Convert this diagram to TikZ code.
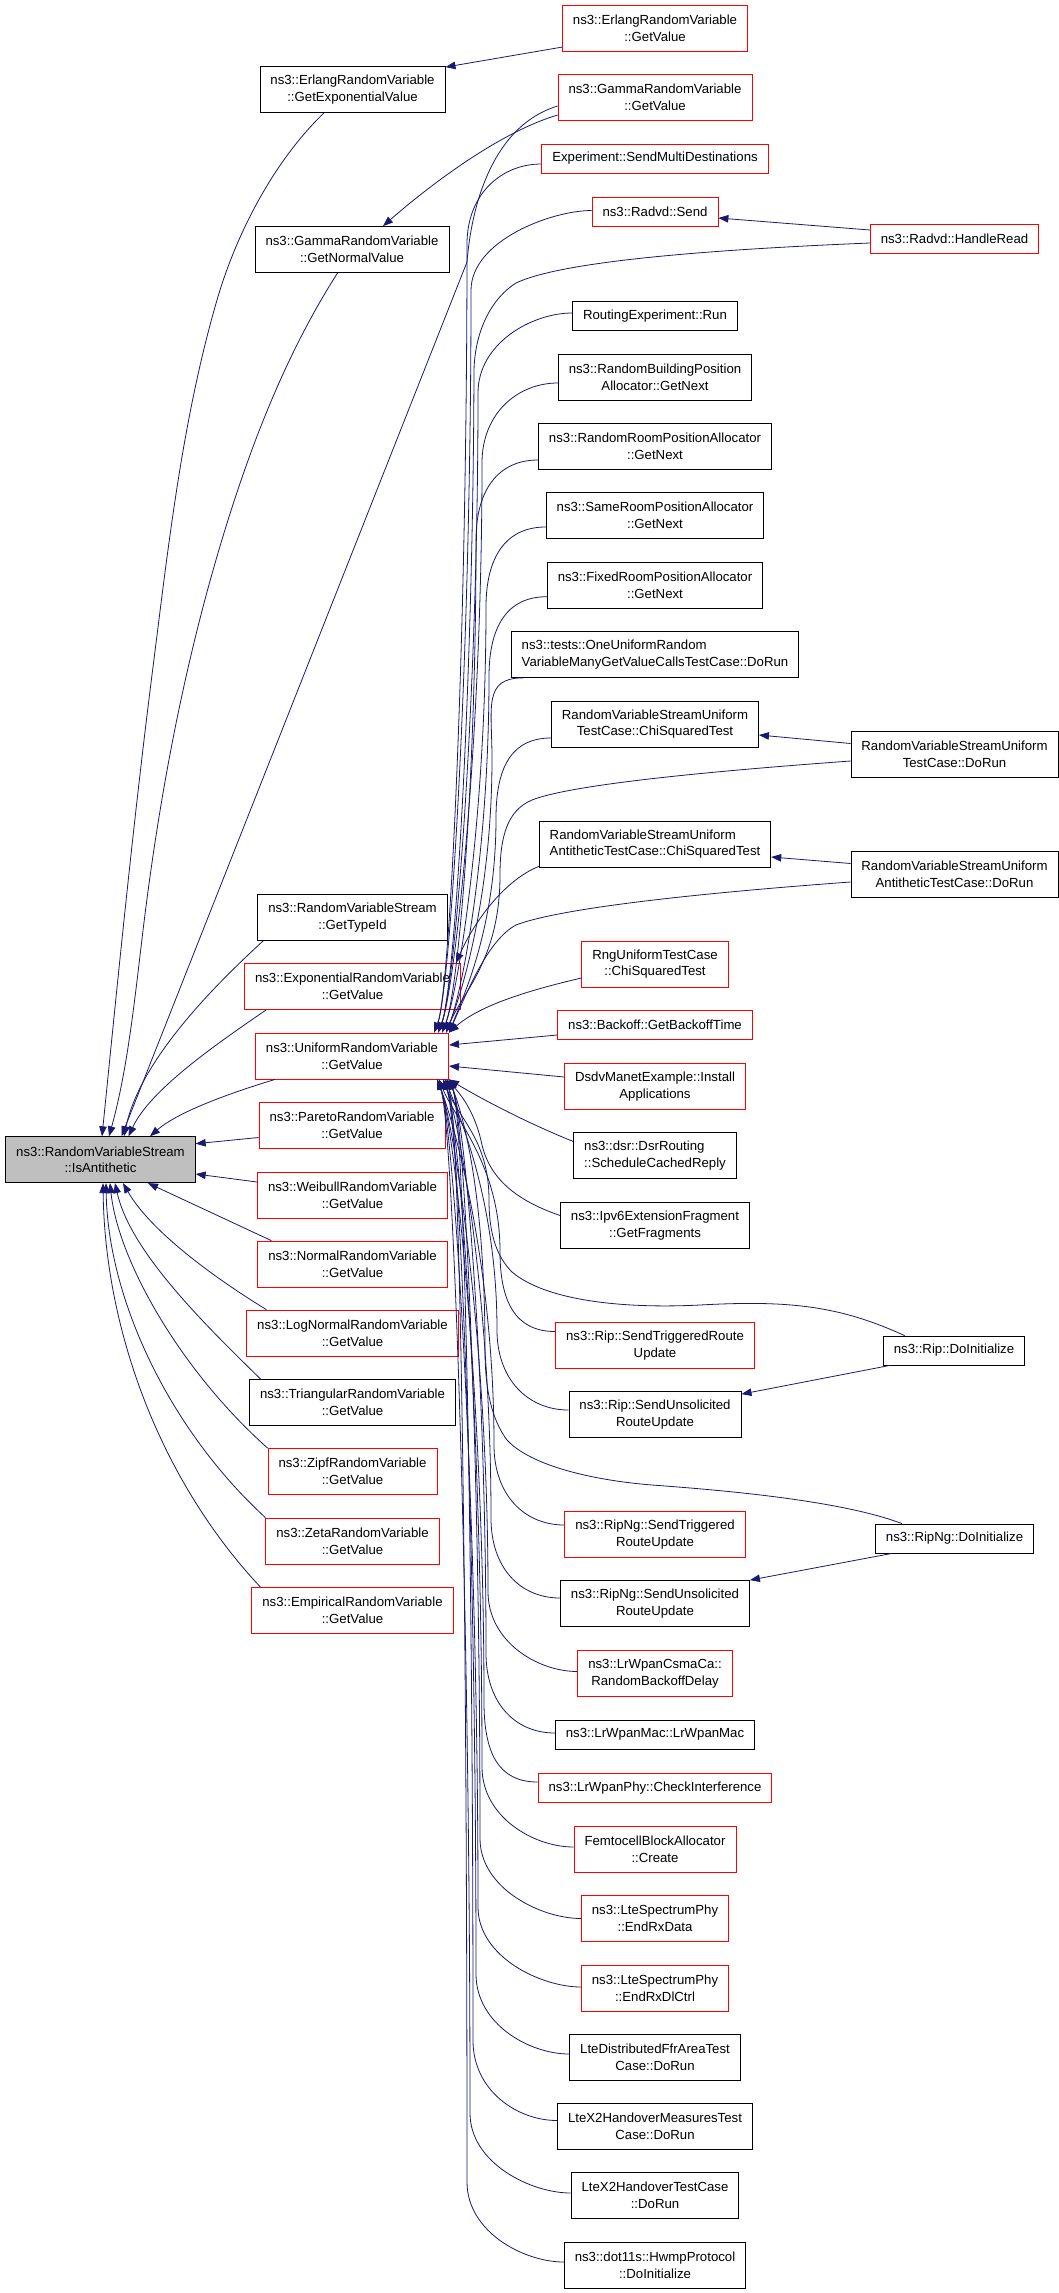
\documentclass[tikz,border=0pt]{standalone}
\usepackage{fontspec}
\setmainfont{Liberation Sans}
\usetikzlibrary{arrows.meta,calc}
\definecolor{edgeblue}{RGB}{25,25,112}
\definecolor{nodegray}{RGB}{191,191,191}
\definecolor{nodered}{RGB}{255,0,0}
\newcommand\upcall[3]{%
 \draw[e] let \p1=(#1), \p2=($(unif.north east)+(#3,0)$) in
 (\p1) .. controls ($(\p1)+(-40,0)$) and (#2pt,\y1-30pt) .. (#2pt,\y1-80pt)
 .. controls (#2pt,{0.5*(\y1+\y2)-40pt}) and ($(\p2)+(16,40)$) .. (\p2);}
\newcommand\lowcall[3]{%
 \draw[e] let \p1=(#1), \p2=($(unif.south east)+(#3,0)$) in
 (\p1) .. controls ($(\p1)+(-40,0)$) and (#2pt,\y1+30pt) .. (#2pt,\y1+80pt)
 .. controls (#2pt,{0.5*(\y1+\y2)+40pt}) and ($(\p2)+(16,-40)$) .. (\p2);}
\tikzset{
 boxbase/.style={draw, line width=0.8pt, font=\fontsize{13.2pt}{16.7pt}\selectfont, inner xsep=10.5pt, inner ysep=0pt, align=center, fill=white},
 boxone/.style={boxbase, minimum height=29pt},
 boxtwo/.style={boxbase, minimum height=46pt},
 bk/.style={draw=black},
 rd/.style={draw=nodered},
 e/.style={draw=edgeblue, line width=0.8pt, -{Triangle[length=10pt,width=7.5pt]}}
}
\begin{document}
\begin{tikzpicture}[x=1pt,y=1pt]
\fill[white] (0,0) rectangle (1059,-2293);
\useasboundingbox (0,0) rectangle (1059,-2293);
% column 0
\node[boxtwo, bk, fill=nodegray] (anti) at (100.5,-1159.7) {ns3::RandomVariableStream\\::IsAntithetic};
% column 1
\node[boxtwo, bk] (erlExp) at (352.5,-89.5) {ns3::ErlangRandomVariable\\::GetExponentialValue};
\node[boxtwo, bk] (gamNorm) at (352,-249.5) {ns3::GammaRandomVariable\\::GetNormalValue};
\node[boxtwo, bk] (typeId) at (352.5,-917.3) {ns3::RandomVariableStream\\::GetTypeId};
\node[boxtwo, rd] (expRV) at (352.5,-986.5) {ns3::ExponentialRandomVariable\\::GetValue};
\node[boxtwo, rd] (unif) at (352,-1056) {ns3::UniformRandomVariable\\::GetValue};
\node[boxtwo, rd] (pareto) at (352,-1125.5) {ns3::ParetoRandomVariable\\::GetValue};
\node[boxtwo, rd] (weibull) at (352.5,-1195) {ns3::WeibullRandomVariable\\::GetValue};
\node[boxtwo, rd] (normal) at (352.5,-1264) {ns3::NormalRandomVariable\\::GetValue};
\node[boxtwo, rd] (logn) at (352.5,-1333) {ns3::LogNormalRandomVariable\\::GetValue};
\node[boxtwo, bk] (tri) at (352.5,-1402.5) {ns3::TriangularRandomVariable\\::GetValue};
\node[boxtwo, rd] (zipf) at (352.5,-1471.5) {ns3::ZipfRandomVariable\\::GetValue};
\node[boxtwo, rd] (zeta) at (352.5,-1541) {ns3::ZetaRandomVariable\\::GetValue};
\node[boxtwo, rd] (empir) at (352.5,-1610.5) {ns3::EmpiricalRandomVariable\\::GetValue};
% column 2
\node[boxtwo, rd] (erlGV) at (655,-28) {ns3::ErlangRandomVariable\\::GetValue};
\node[boxtwo, rd] (gamGV) at (655,-97) {ns3::GammaRandomVariable\\::GetValue};
\node[boxone, rd] (expSMD) at (655,-158.5) {Experiment::SendMultiDestinations};
\node[boxone, rd] (radSend) at (655,-211.5) {ns3::Radvd::Send};
\node[boxone, bk] (routing) at (655,-316) {RoutingExperiment::Run};
\node[boxtwo, bk] (rbpa) at (655,-377) {ns3::RandomBuildingPosition\\Allocator::GetNext};
\node[boxtwo, bk] (rrpa) at (655,-446.5) {ns3::RandomRoomPositionAllocator\\::GetNext};
\node[boxtwo, bk] (srpa) at (655,-515.5) {ns3::SameRoomPositionAllocator\\::GetNext};
\node[boxtwo, bk] (frpa) at (655,-585) {ns3::FixedRoomPositionAllocator\\::GetNext};
\node[boxtwo, bk, align=left] (oneUnif) at (655,-654.5) {ns3::tests::OneUniformRandom\\VariableManyGetValueCallsTestCase::DoRun};
\node[boxtwo, bk] (rvsuChi) at (655,-724) {RandomVariableStreamUniform\\TestCase::ChiSquaredTest};
\node[boxtwo, bk, align=left] (rvsuaChi) at (655,-844) {RandomVariableStreamUniform\\AntitheticTestCase::ChiSquaredTest};
\node[boxtwo, rd] (rngChi) at (655,-964) {RngUniformTestCase\\::ChiSquaredTest};
\node[boxone, rd] (backoff) at (655,-1025) {ns3::Backoff::GetBackoffTime};
\node[boxtwo, rd] (dsdv) at (655,-1086.5) {DsdvManetExample::Install\\Applications};
\node[boxtwo, bk, align=left] (dsr) at (655,-1155.5) {ns3::dsr::DsrRouting\\::ScheduleCachedReply};
\node[boxtwo, bk] (ipv6) at (655,-1225.5) {ns3::Ipv6ExtensionFragment\\::GetFragments};
\node[boxtwo, rd] (ripTrig) at (655,-1345.5) {ns3::Rip::SendTriggeredRoute\\Update};
\node[boxtwo, bk] (ripUns) at (655,-1414.5) {ns3::Rip::SendUnsolicited\\RouteUpdate};
\node[boxtwo, rd] (ripngTrig) at (655,-1534.5) {ns3::RipNg::SendTriggered\\RouteUpdate};
\node[boxtwo, bk] (ripngUns) at (655,-1603.5) {ns3::RipNg::SendUnsolicited\\RouteUpdate};
\node[boxtwo, rd] (lrCsma) at (655,-1673.5) {ns3::LrWpanCsmaCa::\\RandomBackoffDelay};
\node[boxone, bk] (lrMac) at (655,-1734.5) {ns3::LrWpanMac::LrWpanMac};
\node[boxone, rd] (lrPhy) at (655,-1788) {ns3::LrWpanPhy::CheckInterference};
\node[boxtwo, rd] (femto) at (655,-1849.5) {FemtocellBlockAllocator\\::Create};
\node[boxtwo, rd] (lteData) at (655,-1918.5) {ns3::LteSpectrumPhy\\::EndRxData};
\node[boxtwo, rd] (lteDl) at (655,-1988) {ns3::LteSpectrumPhy\\::EndRxDlCtrl};
\node[boxtwo, bk] (lteFfr) at (655,-2057) {LteDistributedFfrAreaTest\\Case::DoRun};
\node[boxtwo, bk] (lteX2m) at (655,-2126.5) {LteX2HandoverMeasuresTest\\Case::DoRun};
\node[boxtwo, bk] (lteX2) at (655,-2195.5) {LteX2HandoverTestCase\\::DoRun};
\node[boxtwo, bk] (hwmp) at (655,-2265) {ns3::dot11s::HwmpProtocol\\::DoInitialize};
% column 3
\node[boxone, rd] (radHR) at (954.5,-238.5) {ns3::Radvd::HandleRead};
\node[boxtwo, bk] (rvsuDo) at (954.5,-754.5) {RandomVariableStreamUniform\\TestCase::DoRun};
\node[boxtwo, bk] (rvsuaDo) at (954.5,-874.5) {RandomVariableStreamUniform\\AntitheticTestCase::DoRun};
\node[boxone, bk] (ripInit) at (954,-1350.5) {ns3::Rip::DoInitialize};
\node[boxone, bk] (ripngInit) at (954.5,-1538.5) {ns3::RipNg::DoInitialize};

% edges into IsAntithetic
\draw[e] ($(erlExp.south)+(-28.5,0)$) .. controls (274,-161) and (236.5,-233) .. (217,-300) .. controls (182.4,-419) and (168.6,-544) .. (153,-667) .. controls (133.2,-822.7) and (117.7,-980.5) .. ($(anti.north)+(1.5,0)$);
\draw[e] ($(gamNorm.south)+(-14.4,0)$) .. controls (286.8,-352.3) and (251.8,-442.2) .. (224,-533) .. controls (184.2,-663) and (158.9,-798) .. (142.7,-933) .. controls (134.5,-1001.5) and (127.3,-1070.5) .. ($(anti.north)+(8.5,0)$);
\draw[e] ($(gamGV.west)+(0,-9)$) .. controls (495,-125) and (472,-200) .. (467,-262) -- ($(anti.north)+(21,0)$);
\draw[e] ($(typeId.south west)+(6,0)$) .. controls (215,-985) and (140,-1060) .. ($(anti.north)+(23.5,0)$);
\draw[e] ($(expRV.south west)+(22,0)$) .. controls (215,-1045) and (150,-1090) .. ($(anti.north)+(28,0)$);
\draw[e] ($(unif.south west)+(20,0)$) .. controls (240,-1090) and (180,-1110) .. ($(anti.north)+(49.5,0)$);
\draw[e] ($(pareto.west)+(0,-12)$) -- ($(anti.east)+(0,16)$);
\draw[e] ($(weibull.west)+(0,13)$) -- ($(anti.east)+(0,-14.3)$);
\draw[e] ($(normal.north west)+(14,0)$) -- ($(anti.south)+(47.5,0)$);
\draw[e] ($(logn.north west)+(20,0)$) .. controls (210,-1275) and (150,-1230) .. ($(anti.south)+(22.5,0)$);
\draw[e] ($(tri.north west)+(11.5,0)$) .. controls (200,-1320) and (130,-1250) .. ($(anti.south)+(14.5,0)$);
\draw[e] (zipf.north west) .. controls (180,-1370) and (118,-1260) .. ($(anti.south)+(9.5,0)$);
\draw[e] (zeta.north west) .. controls (170,-1430) and (108,-1300) .. ($(anti.south)+(5.5,0)$);
\draw[e] ($(empir.north west)+(9,0)$) .. controls (160,-1480) and (105,-1330) .. ($(anti.south)+(2.5,0)$);

% other short edges
\draw[e] ($(erlGV.south west)+(0,4.3)$) -- ($(erlExp.north east)+(0,-1)$);
\draw[e] ($(gamGV.west)+(0,-18)$) .. controls (500,-132) and (430,-185) .. ($(gamNorm.north)+(31,0)$);
\draw[e] ($(radHR.west)+(0,8.5)$) -- ($(radSend.east)+(0,-6.5)$);
\draw[e] ($(rvsuDo.west)+(0,11)$) -- ($(rvsuChi.east)+(0,-11)$);
\draw[e] ($(rvsuaDo.west)+(0,11)$) -- ($(rvsuaChi.east)+(0,-13)$);
\draw[e] ($(ripInit.south west)+(7,0)$) -- ($(ripUns.north east)+(0,-3)$);
\draw[e] ($(ripngInit.south west)+(17,0)$) -- (ripngUns.north east);
\draw[e] ($(rvsuaChi.south west)+(0,1)$) .. controls (505,-880) and (475,-920) .. ($(expRV.north east)+(-5,0)$);
\draw[e] ($(backoff.west)+(0,-10)$) -- ($(unif.east)+(0,11)$);
\draw[e] ($(dsdv.west)+(0,9.5)$) -- ($(unif.east)+(0,-10)$);

% upper callers of UniformRandomVariable::GetValue
\upcall{$(expSMD.west)+(0,-5.5)$}{467}{-15}
\upcall{$(radSend.west)+(0,1)$}{471}{-15}
\upcall{$(routing.west)+(0,3)$}{478}{-11}
\upcall{$(rbpa.west)+(0,-6)$}{482}{-11}
\upcall{$(rrpa.west)+(0,-13.5)$}{476}{-7}
\upcall{$(srpa.west)+(0,-11.5)$}{486}{-7}
\upcall{$(frpa.west)+(0,-11.7)$}{489}{-3}
\upcall{$(oneUnif.south west)+(12,0)$}{492}{-3}
\upcall{$(rvsuChi.west)+(0,-14)$}{496}{0}
\draw[e] ($(radHR.west)+(0,-4.5)$) .. controls (700,-250) and (560,-262) .. (516,-283) .. controls (492,-298) and (475,-330) .. (474,-370) .. controls (473,-700) and ($(unif.north east)+(5,40)$) .. ($(unif.north east)+(-11,0)$);
\draw[e] ($(rvsuDo.west)+(0,-6.5)$) .. controls (700,-772) and (570,-785) .. (532,-800) .. controls (508,-810) and (500,-835) .. (500,-875) .. controls (500,-960) and ($(unif.north east)+(13,40)$) .. ($(unif.north east)+(-3,0)$);
\draw[e] ($(rvsuaDo.west)+(0,-7.5)$) .. controls (700,-893) and (560,-908) .. (516,-925) .. controls (488,-940) and (468,-990) .. (unif.north east);
\draw[e] ($(rngChi.west)+(0,-14)$) .. controls (530,-990) and (480,-1005) .. (unif.north east);

% lower callers of UniformRandomVariable::GetValue
\draw[e] ($(dsr.west)+(0,14)$) .. controls (520,-1120) and (475,-1095) .. (unif.south east);
\draw[e] ($(ipv6.west)+(0,10)$) .. controls (515,-1200) and (490,-1178) .. (482,-1145) .. controls (476,-1115) and (462,-1095) .. ($(unif.south east)+(-3,0)$);
\lowcall{$(ripTrig.west)+(0,14)$}{500}{-10}
\lowcall{$(ripUns.west)+(0,4.5)$}{497}{-4}
\lowcall{$(ripngTrig.west)+(0,9.5)$}{494}{-12}
\lowcall{$(ripngUns.west)+(0,5.5)$}{491}{-6}
\lowcall{$(lrCsma.west)+(0,2)$}{488}{-12}
\lowcall{$(lrMac.west)+(0,1.5)$}{486}{0}
\lowcall{$(lrPhy.west)+(0,6)$}{484}{-12}
\lowcall{$(femto.west)+(0,2.5)$}{482}{-6}
\lowcall{lteData.west}{480}{0}
\lowcall{$(lteDl.west)+(0,1)$}{478}{-12}
\lowcall{$(lteFfr.west)+(0,3)$}{476}{-6}
\lowcall{$(lteX2m.west)+(0,6)$}{473}{0}
\lowcall{$(lteX2.west)+(0,2.5)$}{470}{-12}
\lowcall{$(hwmp.west)+(0,3)$}{467}{-4}
\draw[e] ($(ripInit.north west)+(21.7,0)$) .. controls (840,-1306) and (790,-1300) .. (700,-1305) .. controls (620,-1309) and (545,-1300) .. (512,-1272) .. controls (495,-1255) and (489,-1230) .. (489,-1200) .. controls (489,-1140) and ($(unif.south east)+(10,-40)$) .. ($(unif.south east)+(-6,0)$);
\draw[e] ($(ripngInit.north west)+(27,0)$) .. controls (840,-1500) and (720,-1490) .. (652,-1485) .. controls (590,-1480) and (530,-1465) .. (507,-1440) .. controls (492,-1420) and (485,-1390) .. (485,-1350) .. controls (485,-1200) and ($(unif.south east)+(16,-40)$) .. (unif.south east);
\end{tikzpicture}
\end{document}
